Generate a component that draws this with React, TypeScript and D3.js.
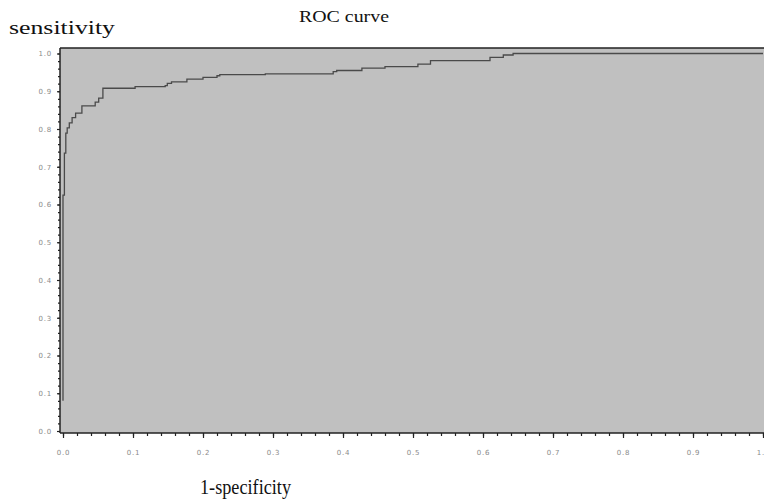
import React, { useEffect, useRef } from 'react';
import * as d3 from 'd3';

// ROC step points: [1-specificity, sensitivity] (tpr after the jump at that fpr)
const fpr = [0, 0, 0.002, 0.004, 0.006, 0.009, 0.013, 0.018, 0.027, 0.046, 0.051, 0.057,
  0.103, 0.146, 0.149, 0.155, 0.177, 0.2, 0.22, 0.224, 0.289, 0.386, 0.391, 0.427,
  0.46, 0.507, 0.525, 0.61, 0.629, 0.643, 1];
const tpr = [0.08, 0.625, 0.736, 0.789, 0.803, 0.816, 0.83, 0.842, 0.861, 0.871, 0.882, 0.908,
  0.912, 0.915, 0.921, 0.925, 0.932, 0.937, 0.941, 0.944, 0.946, 0.952, 0.955, 0.961,
  0.965, 0.972, 0.981, 0.99, 0.996, 1, 1];
const ticks = [0, 0.1, 0.2, 0.3, 0.4, 0.5, 0.6, 0.7, 0.8, 0.9, 1.0];

function App() {
  const svgRef = useRef<SVGSVGElement>(null);

  useEffect(() => {
    const svg = d3.select(svgRef.current);
    svg.selectAll('*').remove();

    const left = 60, top = 48, bottom = 433;
    const x = d3.scaleLinear().domain([0, 1]).range([63, 763]);
    const y = d3.scaleLinear().domain([0, 1]).range([431, 53.5]);

    // plot background
    svg.append('rect')
      .attr('x', left).attr('y', top)
      .attr('width', 780 - left).attr('height', bottom - top)
      .attr('fill', '#c0c0c0');

    const minor = d3.range(0, 1.0001, 0.02);

    // x axis
    const gx = svg.append('g').attr('transform', `translate(0,${bottom})`);
    gx.call(d3.axisBottom(x).tickValues(minor).tickSize(3).tickFormat(() => ''));
    gx.call(g => g.select('.domain').remove());
    const gx2 = svg.append('g').attr('transform', `translate(0,${bottom})`);
    gx2.call(d3.axisBottom(x).tickValues(ticks).tickSize(5).tickPadding(12).tickFormat(d3.format('.1f')));
    gx2.select('.domain').remove();

    // y axis
    const gy = svg.append('g').attr('transform', `translate(${left},0)`);
    gy.call(d3.axisLeft(y).tickValues(minor).tickSize(2).tickFormat(() => ''));
    gy.select('.domain').remove();
    const gy2 = svg.append('g').attr('transform', `translate(${left},0)`);
    gy2.call(d3.axisLeft(y).tickValues(ticks).tickSize(3).tickPadding(5).tickFormat(d3.format('.1f')));
    gy2.select('.domain').remove();

    svg.selectAll('.tick line').attr('stroke', '#222').attr('stroke-width', 1.2);
    svg.selectAll('.tick text')
      .attr('fill', '#8a8a8a')
      .attr('font-family', 'DejaVu Sans')
      .attr('font-size', 7)
      .attr('letter-spacing', 0.8);

    // frame lines
    svg.append('line').attr('x1', left).attr('x2', 780).attr('y1', top).attr('y2', top)
      .attr('stroke', '#222').attr('stroke-width', 1.5);
    svg.append('line').attr('x1', left).attr('x2', left).attr('y1', top).attr('y2', bottom)
      .attr('stroke', '#222').attr('stroke-width', 1.5);
    svg.append('line').attr('x1', left).attr('x2', 780).attr('y1', bottom).attr('y2', bottom)
      .attr('stroke', '#222').attr('stroke-width', 1.5);

    // ROC curve
    const pts = fpr.map((f, i) => [f, tpr[i]] as [number, number]);
    const line = d3.line<[number, number]>()
      .x(d => x(d[0]))
      .y(d => y(d[1]))
      .curve(d3.curveStepAfter);
    svg.append('path')
      .attr('d', line(pts))
      .attr('fill', 'none')
      .attr('stroke', '#4a4a4a')
      .attr('stroke-width', 1.3);

    const serif = 'Liberation Serif, Times New Roman, serif';
    svg.append('text').text('sensitivity')
      .attr('x', 9).attr('y', 34)
      .attr('font-family', serif).attr('font-size', 19)
      .attr('textLength', 106).attr('lengthAdjust', 'spacingAndGlyphs')
      .attr('fill', '#111');
    svg.append('text').text('ROC curve')
      .attr('x', 299).attr('y', 22)
      .attr('font-family', serif).attr('font-size', 17)
      .attr('textLength', 90).attr('lengthAdjust', 'spacingAndGlyphs')
      .attr('fill', '#111');
    svg.append('text').text('1-specificity')
      .attr('x', 200).attr('y', 494)
      .attr('font-family', serif).attr('font-size', 20)
      .attr('textLength', 91).attr('lengthAdjust', 'spacingAndGlyphs')
      .attr('fill', '#111');
  }, []);

  return (
    <svg ref={svgRef} width={764} height={501}
      style={{ position: 'absolute', left: 0, top: 0, background: '#fff' }} />
  );
}

export default App;
